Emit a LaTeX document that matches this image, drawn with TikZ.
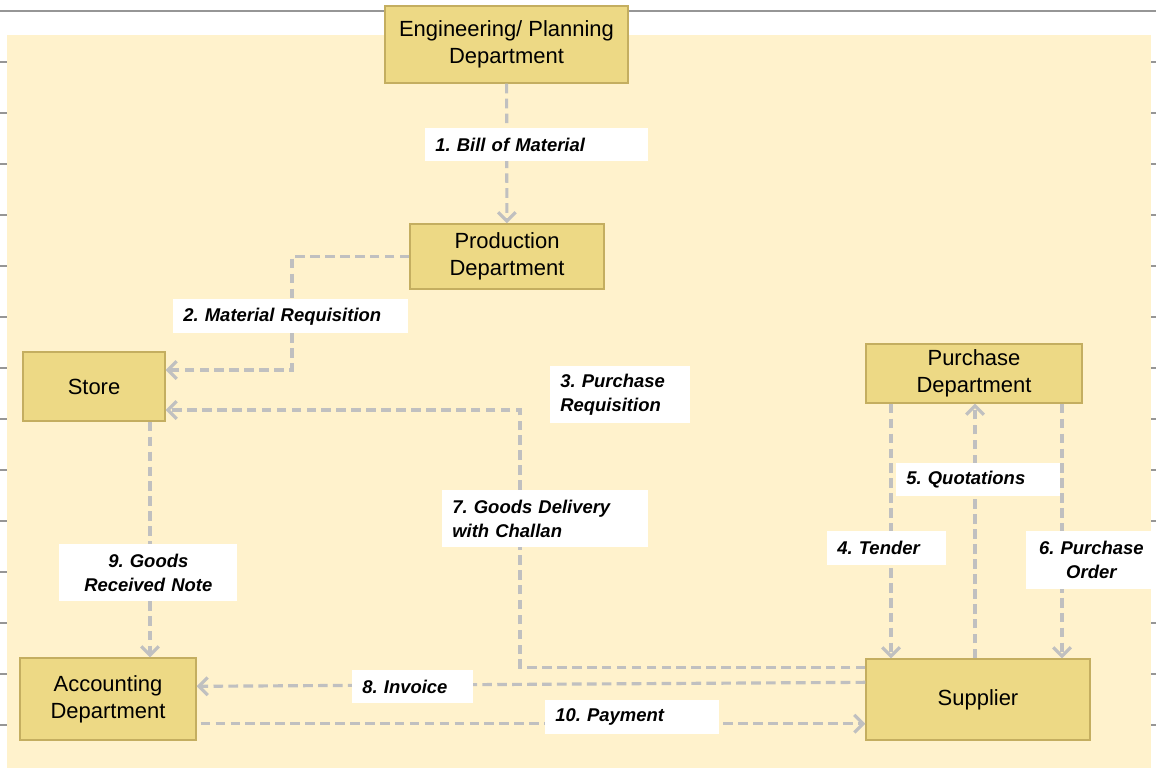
\documentclass[tikz,border=0pt]{standalone}
\usepackage{fontspec}
\setmainfont{Liberation Sans}
\usetikzlibrary{arrows.meta,calc}

\definecolor{sheet}{RGB}{255,242,204}
\definecolor{deptfill}{RGB}{237,217,133}
\definecolor{deptdraw}{RGB}{196,174,96}
\definecolor{flowgray}{RGB}{192,192,192}
\definecolor{rulegray}{RGB}{150,150,150}

\frenchspacing
\begin{document}
\begin{tikzpicture}[x=0.02cm, y=-0.02cm,
  dept/.style={draw=deptdraw, fill=deptfill, line width=0.8pt, inner sep=0pt,
    align=center, font=\fontsize{12.5}{15.3}\selectfont},
  lbl/.style={fill=white, anchor=north west, inner xsep=0.2cm, inner ysep=0pt,
    align=left, font=\bfseries\itshape\fontsize{10.5}{13.6}\selectfont},
  flow/.style={draw=flowgray, line width=1.8pt, dash pattern=on 5.5pt off 3pt,
    -{Straight Barb[length=5pt,width=10pt]}}]

  \useasboundingbox (0,0) rectangle (1156,768);
  \fill[sheet] (7,35) rectangle (1151,768);
  \draw[rulegray, line width=0.6pt] (0,11) -- (1156,11);
  \foreach \y in {62,113,...,725} {
    \draw[rulegray, line width=0.6pt] (0,\y) -- (7,\y) (1151,\y) -- (1156,\y);
  }

  % departments
  \node[dept, minimum width=4.86cm, minimum height=1.54cm] (eng) at (506.5,44.5) {Engineering/ Planning\\Department};
  \node[dept, minimum width=3.88cm, minimum height=1.30cm] (prod) at (507,256.5) {Production\\Department};
  \node[dept, minimum width=2.84cm, minimum height=1.38cm] (store) at (94,386.5) {Store};
  \node[dept, minimum width=4.32cm, minimum height=1.18cm] (pur) at (974,373.5) {Purchase\\Department};
  \node[dept, minimum width=3.52cm, minimum height=1.64cm] (acc) at (108,699) {Accounting\\Department};
  \node[dept, minimum width=4.48cm, minimum height=1.62cm] (sup) at (978,699.5) {Supplier};

  % flows
  \coordinate (bend2) at (292,370);
  \coordinate (bend7) at (520,410);
  \coordinate (grn) at (150,0);
  \coordinate (tender) at (891,0);
  \coordinate (quote) at (975,0);
  \coordinate (order) at (1062,0);

  \draw[flow] (eng) -- (prod);
  \draw[flow] (prod.west) -| (bend2) -- (store.east |- bend2);
  \draw[flow] ($(sup.north west)+(0,9)$) -| (bend7) -- (store.east |- bend7);
  \draw[flow] ($(sup.north west)+(0,24)$) -- ($(acc.north east)+(0,29)$);
  \draw[flow] ($(acc.south east)+(4,-17)$) -- ($(sup.south west)+(0,-17)$);
  \draw[flow] (store.south -| grn) -- (acc.north -| grn);
  \draw[flow] (pur.south -| tender) -- (sup.north -| tender);
  \draw[flow] (sup.north -| quote) -- (pur.south -| quote);
  \draw[flow] (pur.south -| order) -- (sup.north -| order);

  % labels
  \node[lbl, text width=4.06cm, minimum height=0.66cm] (l1) at (425,128) {1. Bill of Material};
  \node[lbl, text width=4.30cm, minimum height=0.68cm] (l2) at (173,299) {2. Material Requisition};
  \node[lbl, text width=2.40cm, minimum height=1.14cm] (l3) at (550,366) {3. Purchase\\Requisition};
  \node[lbl, text width=1.98cm, minimum height=0.68cm] (l4) at (827,531) {4. Tender};
  \node[lbl, text width=2.88cm, minimum height=0.66cm] (l5) at (896,463) {5. Quotations};
  \node[lbl, text width=2.20cm, minimum height=1.16cm, align=center] (l6) at (1026,531) {6. Purchase\\Order};
  \node[lbl, text width=3.72cm, minimum height=1.14cm] (l7) at (442,490) {7. Goods Delivery\\with Challan};
  \node[lbl, text width=2.02cm, minimum height=0.66cm] (l8) at (352,670) {8. Invoice};
  \node[lbl, text width=3.16cm, minimum height=1.14cm, align=center] (l9) at (59,544) {9. Goods\\Received Note};
  \node[lbl, text width=3.08cm, minimum height=0.68cm] (l10) at (545,700) {10. Payment};
\end{tikzpicture}
\end{document}
